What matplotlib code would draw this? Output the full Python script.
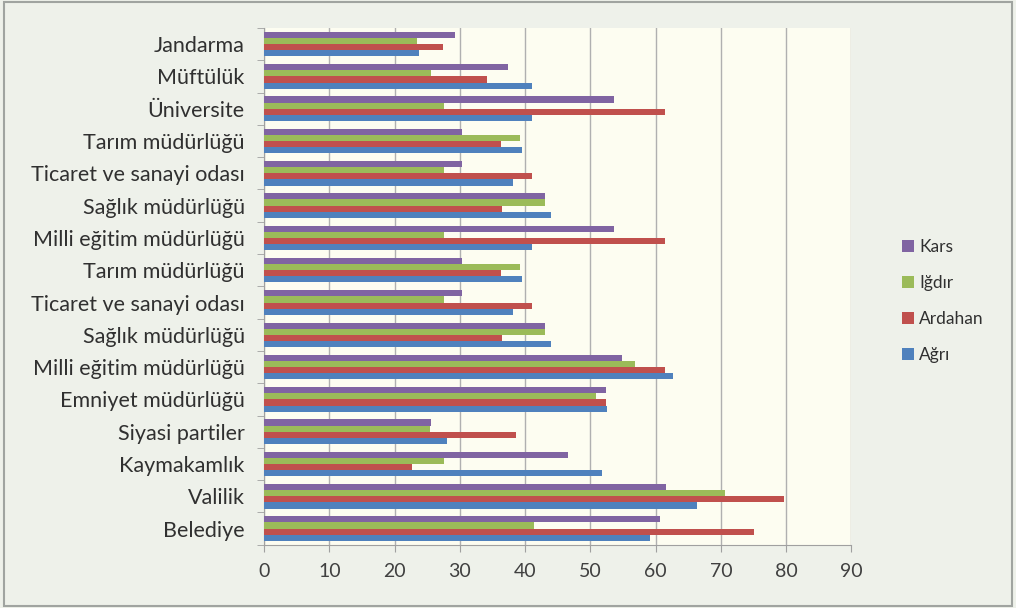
import matplotlib.pyplot as plt
import numpy as np
from matplotlib.patches import Rectangle

# categories from bottom to top
categories = ['Belediye', 'Valilik', 'Kaymakamlık', 'Siyasi partiler',
              'Emniyet müdürlüğü', 'Milli eğitim müdürlüğü', 'Sağlık müdürlüğü',
              'Ticaret ve sanayi odası', 'Tarım müdürlüğü', 'Milli eğitim müdürlüğü',
              'Sağlık müdürlüğü', 'Ticaret ve sanayi odası', 'Tarım müdürlüğü',
              'Üniversite', 'Müftülük', 'Jandarma']

agri = [59.1, 66.3, 51.8, 28.0, 52.5, 62.7, 44.0, 38.1, 39.5, 41.0, 44.0, 38.1, 39.5, 41.0, 41.0, 23.8]
ardahan = [75.0, 79.6, 22.6, 38.6, 52.4, 61.4, 36.4, 41.0, 36.3, 61.5, 36.4, 41.0, 36.3, 61.5, 34.1, 27.4]
igdir = [41.3, 70.7, 27.6, 25.4, 50.8, 56.9, 43.1, 27.6, 39.2, 27.6, 43.1, 27.6, 39.2, 27.6, 25.5, 23.5]
kars = [60.7, 61.6, 46.5, 25.5, 52.4, 54.8, 43.1, 30.3, 30.3, 53.6, 43.1, 30.3, 30.3, 53.6, 37.3, 29.2]

series = [('Ağrı', agri, '#4F81BD'), ('Ardahan', ardahan, '#C0504D'),
          ('Iğdır', igdir, '#9BBB59'), ('Kars', kars, '#8064A2')]

plt.rcParams['font.family'] = ['Lato', 'DejaVu Sans']

fig = plt.figure(figsize=(10.16, 6.08), dpi=100, facecolor='#eef1ea')
fig.patches.append(Rectangle((0.004, 0.004), 0.992, 0.992, transform=fig.transFigure,
                             fill=False, edgecolor='#a0a4a0', linewidth=1.5))
ax = fig.add_axes([0.26, 0.104, 0.578, 0.85])
ax.set_facecolor('#fdfdf1')

y = np.arange(len(categories))
h = 0.19
for i, (name, vals, col) in enumerate(series):
    ax.barh(y + (i - 1.5) * h, vals, height=h, color=col, label=name, zorder=3)

ax.set_xlim(0, 90)
ax.set_ylim(-0.5, len(categories) - 0.5)
ax.set_xticks(range(0, 91, 10))
ax.set_yticks(y)
ax.set_yticklabels(categories)
ax.set_yticks(np.arange(-0.5, len(categories), 1), minor=True)
ax.tick_params(axis='y', which='major', length=0, labelsize=15.5, pad=14, colors='#303030')
ax.tick_params(axis='y', which='minor', length=5, color='#a0a0a0', direction='out')
ax.tick_params(axis='x', length=5, color='#a0a0a0', labelsize=14, pad=8, labelcolor='#404040')
ax.grid(axis='x', color='#b0b0b0', linewidth=1, zorder=0)
for s in ['top', 'right']:
    ax.spines[s].set_visible(False)
for s in ['left', 'bottom']:
    ax.spines[s].set_color('#a0a0a0')

handles, labels = ax.get_legend_handles_labels()
leg = fig.legend(handles[::-1], labels[::-1], loc='center left', bbox_to_anchor=(0.872, 0.505),
                 frameon=False, fontsize=12.5, handlelength=0.7, handleheight=0.7,
                 handletextpad=0.3, labelspacing=1.15)
for t in leg.get_texts():
    t.set_color('#303030')

fig.savefig('out.png', dpi=100, facecolor=fig.get_facecolor())
